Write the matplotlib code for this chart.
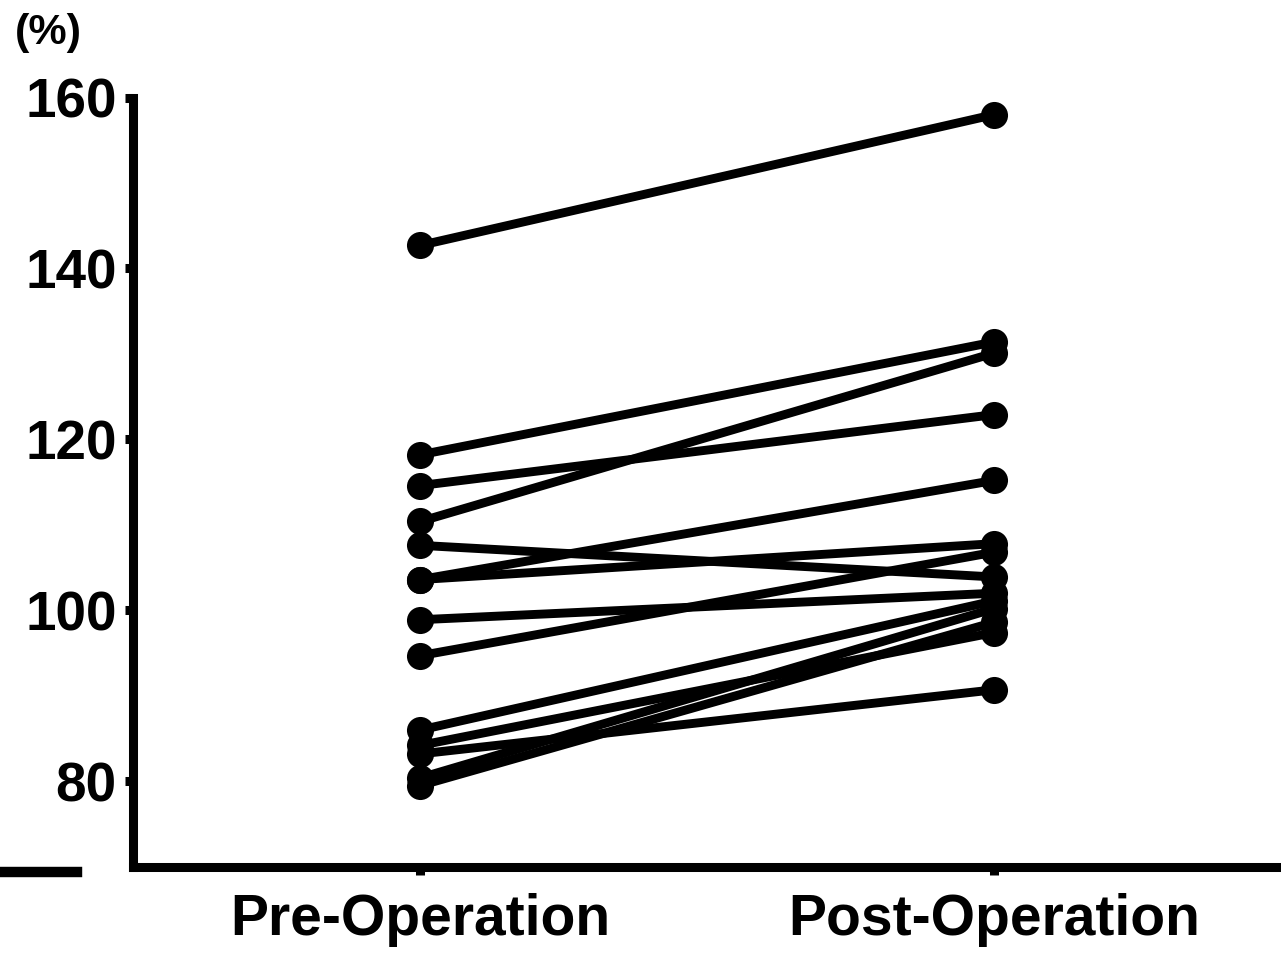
import matplotlib
matplotlib.use("Agg")
import matplotlib.pyplot as plt
from matplotlib.lines import Line2D

plt.rcParams["font.family"] = ["Liberation Sans", "DejaVu Sans"]
plt.rcParams["font.weight"] = "bold"

# paired values, one entry per subject
categories = ["Pre-Operation", "Post-Operation"]
pre = [142.7, 118.2, 114.6, 110.4, 107.6, 103.6, 103.6, 98.9, 94.7,
       86.0, 84.2, 83.2, 80.4, 79.5]
post = [158.0, 131.4, 122.9, 130.1, 103.9, 115.2, 107.8, 102.0, 106.8,
        101.1, 97.4, 90.7, 100.2, 98.6]
yticks = [80, 100, 120, 140, 160]

fig = plt.figure(figsize=(12.81, 9.58), dpi=100)
ax = fig.add_axes([0.1042, 0.0953, 0.8958, 0.8029])

for a, b in zip(pre, post):
    ax.plot([0, 1], [a, b], color="black", lw=6.4, solid_capstyle="round",
            marker="o", markersize=19.5, markeredgewidth=0, zorder=2)

ax.set_xlim(-0.5, 1.5)
ax.set_ylim(70, 160)
ax.set_xticks([0, 1])
ax.set_xticklabels(categories, fontsize=41, fontweight="bold")
ax.set_yticks(yticks)
ax.set_yticklabels([str(v) for v in yticks], fontsize=39.5, fontweight="bold")

for side in ["top", "right"]:
    ax.spines[side].set_visible(False)
for side in ["left", "bottom"]:
    ax.spines[side].set_linewidth(6.5)
ax.tick_params(axis="both", width=6.5, length=6, direction="out")
ax.tick_params(axis="y", pad=6)
ax.tick_params(axis="x", pad=13)

fig.text(0.012, 0.966, "(%)", fontsize=31, fontweight="bold",
         ha="left", va="center")

# short stray rule at lower left of the original figure
fig.add_artist(Line2D([0.0, 0.06], [0.0897, 0.0897], color="black", lw=7.5,
                      transform=fig.transFigure))

fig.savefig("out.png", dpi=100)
